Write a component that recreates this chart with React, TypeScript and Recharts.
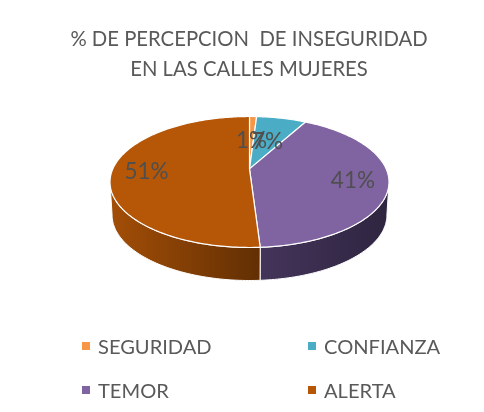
import { PieChart, Pie, Legend } from "recharts";

const categories = ["SEGURIDAD", "CONFIANZA", "TEMOR", "ALERTA"];
const shares = [1, 7, 41, 51];
const colors = ["#F79646", "#4BACC6", "#8064A2", "#B65708"];
const wallFrom = ["#F79646", "#4BACC6", "#44345A", "#A34E07"];
const wallTo = ["#F79646", "#4BACC6", "#2E2540", "#622F03"];
const titleLines = ["% DE PERCEPCION  DE INSEGURIDAD", "EN LAS CALLES MUJERES"];

const FONT = "Lato, sans-serif";
const TEXT = "#595959";

// la tarta es un disco visto en perspectiva: el centro queda corrido hacia arriba
const SQUASH = 65.5 / 139.5;
const SHIFT = 0.2;
const DEPTH = 33;
const WALL_SHRINK = 0.985;

function project(deg: number, r: number) {
  const a = (deg * Math.PI) / 180;
  const x = r * Math.sin(a);
  const y = r * Math.cos(a);
  const d = 1 + SHIFT * y;
  return { x: (x * Math.sqrt(1 - SHIFT * SHIFT)) / d, y: (y + SHIFT) / d };
}

function sample(from: number, to: number) {
  const out: number[] = [];
  const n = Math.max(2, Math.ceil(Math.abs(to - from)));
  for (let i = 0; i <= n; i++) out.push(from + ((to - from) * i) / n);
  return out;
}

function Slice(props: any) {
  const { cx, cy, outerRadius: R, startAngle, endAngle, fill, index } = props;
  const from = 90 - startAngle;
  const to = 90 - endAngle;
  const top = (t: number, r = 1) => {
    const p = project(t, r);
    return [cx + R * p.x, cy - R * SQUASH * p.y];
  };
  const low = (t: number) => {
    const p = project(t, 1);
    return [cx + R * WALL_SHRINK * p.x, cy + DEPTH - R * SQUASH * p.y];
  };
  const angles = sample(from, to);
  const apex = top(0, 0);
  const face = [apex, ...angles.map((t) => top(t))];
  const front = angles.filter((t) => project(t, 1).y <= 0);
  const wall = [...front.map((t) => top(t)), ...front.slice().reverse().map((t) => low(t))];
  const d = (pts: number[][]) => "M" + pts.map((p) => p[0].toFixed(2) + "," + p[1].toFixed(2)).join("L") + "Z";
  const gid = "wall" + index;
  return (
    <g>
      {front.length > 1 && (
        <>
          <defs>
            <linearGradient id={gid} x1="0" y1="0" x2="1" y2="0">
              <stop offset="0" stopColor={wallFrom[index]} />
              <stop offset="1" stopColor={wallTo[index]} />
            </linearGradient>
          </defs>
          <path d={d(wall)} fill={`url(#${gid})`} stroke="#fff" strokeWidth={1} />
        </>
      )}
      <path d={d(face)} fill={fill} stroke="#fff" strokeWidth={1.2} strokeLinejoin="round" />
    </g>
  );
}

function sliceLabel(props: any) {
  const { cx, cy, outerRadius: R, midAngle, value } = props;
  const p = project(90 - midAngle, value < 10 ? 0.52 : 0.75);
  return (
    <text
      x={cx + R * p.x}
      y={cy - R * SQUASH * p.y}
      fill="#4F4F4F"
      fontFamily={FONT}
      fontSize={22.5}
      textAnchor="middle"
      dominantBaseline="central"
    >
      {value + "%"}
    </text>
  );
}

function renderLegend({ payload }: any) {
  return (
    <div style={{ display: "grid", gridTemplateColumns: "226px 160px", gridAutoRows: "44px" }}>
      {(payload ?? []).map((item: any) => (
        <div key={item.value} style={{ display: "flex", alignItems: "center", fontFamily: FONT, fontSize: 20.1, color: TEXT }}>
          <span style={{ width: 8, height: 8, background: item.color, marginRight: 8 }} />
          {item.value}
        </div>
      ))}
    </div>
  );
}

const rows = categories.map((name, i) => ({ name, value: shares[i], fill: colors[i] }));

export default function App() {
  return (
    <div style={{ position: "absolute", left: 0, top: 0, width: 484, height: 412, background: "#fff", filter: "blur(0.4px)" }}>
      <PieChart width={484} height={412} margin={{ top: 0, right: 0, bottom: 0, left: 0 }}>
        {titleLines.map((line, i) => (
          <text
            key={line}
            x={249}
            y={46 + i * 29.5}
            textAnchor="middle"
            fontFamily={FONT}
            fontSize={20.3}
            fill={TEXT}
            style={{ whiteSpace: "pre" }}
          >
            {line}
          </text>
        ))}
        <Pie
          data={rows}
          dataKey="value"
          nameKey="name"
          cx={249.5}
          cy={182}
          outerRadius={139.5}
          startAngle={90}
          endAngle={-270}
          shape={Slice}
          label={sliceLabel}
          labelLine={false}
          isAnimationActive={false}
        />
        <Legend
          content={renderLegend}
          itemSorter={null}
          wrapperStyle={{ position: "absolute", left: 82, top: 324, width: 400 }}
        />
      </PieChart>
    </div>
  );
}
